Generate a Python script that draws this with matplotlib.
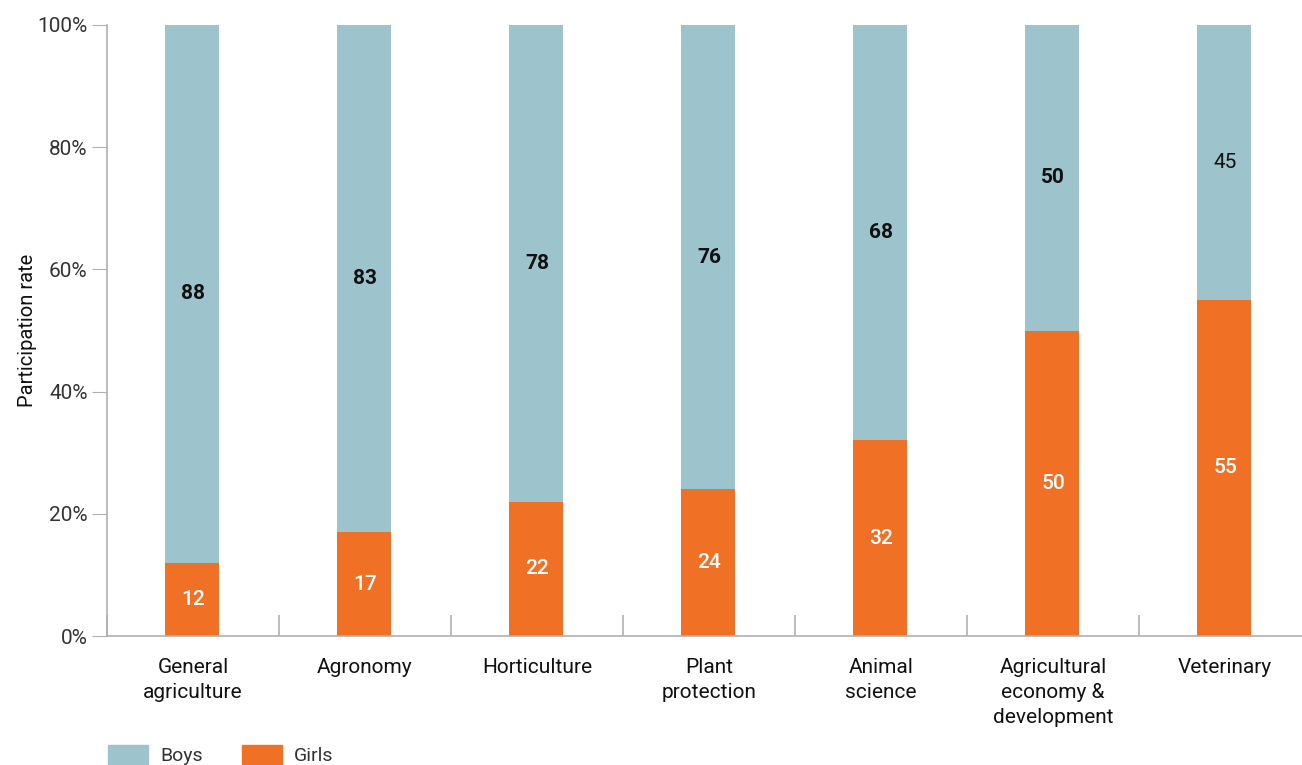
import matplotlib

matplotlib.use("Agg")
import matplotlib.pyplot as plt
from matplotlib.patches import Patch

plt.rcParams["font.family"] = ["Roboto", "DejaVu Sans"]

categories = [
    "General\nagriculture",
    "Agronomy",
    "Horticulture",
    "Plant\nprotection",
    "Animal\nscience",
    "Agricultural\neconomy &\ndevelopment",
    "Veterinary",
]
girls = [12, 17, 22, 24, 32, 50, 55]
boys = [88, 83, 78, 76, 68, 50, 45]

BOYS_C = "#9dc3cd"
GIRLS_C = "#f07125"
AXIS_C = "#b0b0b0"

fig = plt.figure(figsize=(13.02, 7.65), dpi=100)
ax = fig.add_axes([107 / 1302, 1 - 636 / 765, 1 - 107 / 1302, (636 - 25) / 765])

x = list(range(len(categories)))
w = 0.314
ax.bar([i - 0.006 for i in x], girls, width=w, color=GIRLS_C, zorder=2)
ax.bar([i - 0.006 for i in x], boys, width=w, bottom=girls, color=BOYS_C, zorder=2)

boys_weight = ["bold"] * 6 + ["normal"]
for i in x:
    ax.text(i, girls[i] / 2, str(girls[i]), ha="center", va="center",
            color="white", fontsize=15, fontweight="medium")
    ax.text(i, girls[i] + boys[i] / 2, str(boys[i]), ha="center", va="center",
            color="#111111", fontsize=15, fontweight=boys_weight[i])

ax.set_ylim(0, 100)
ax.set_xlim(-0.5, (1302 - 107) / 172 - 0.5)
ax.set_yticks([0, 20, 40, 60, 80, 100])
ax.set_yticklabels([f"{v}%" for v in [0, 20, 40, 60, 80, 100]])
ax.tick_params(axis="y", length=11, color=AXIS_C, labelsize=15, labelcolor="#333333", pad=3)

# category labels as minor ticks at centres, separators as major ticks
ax.set_xticks([i - 0.5 for i in range(len(categories))])
ax.set_xticklabels([])
ax.tick_params(axis="x", which="major", direction="in", length=15, color=AXIS_C, width=1.2)
ax.set_xticks(x, minor=True)
ax.set_xticklabels(categories, minor=True, fontsize=15, color="#111111", linespacing=1.38)
ax.tick_params(axis="x", which="minor", length=0, pad=16)

for s in ["top", "right"]:
    ax.spines[s].set_visible(False)
for s in ["left", "bottom"]:
    ax.spines[s].set_color(AXIS_C)
    ax.spines[s].set_linewidth(1.2)

ax.set_ylabel("Participation rate", fontsize=14.5, color="#111111", labelpad=0)

handles = [Patch(color=BOYS_C, label="Boys"), Patch(color=GIRLS_C, label="Girls")]
fig.legend(handles=handles, loc="center left", bbox_to_anchor=(94 / 1302, 1 - 755 / 765),
           ncol=2, frameon=False, fontsize=14, handlelength=2.1, handleheight=1.1,
           columnspacing=2.0, handletextpad=0.6, labelcolor="#333333",
           borderpad=0.2)

fig.savefig("out.png", dpi=100)
